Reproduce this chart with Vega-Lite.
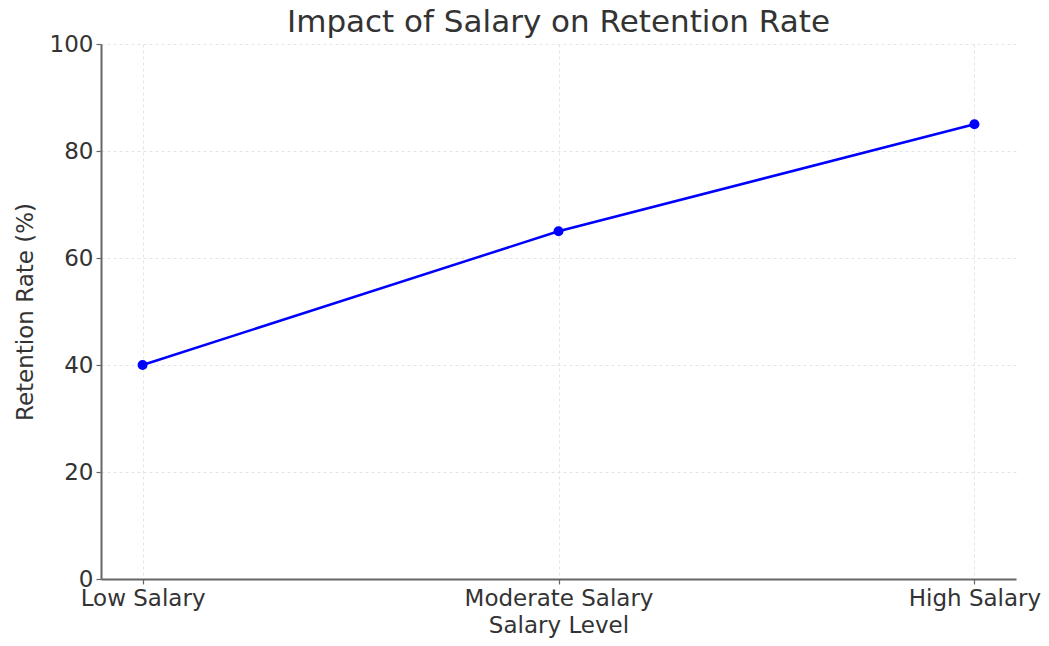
{
  "$schema": "https://vega.github.io/schema/vega-lite/v6.json",
  "autosize": "none",
  "width": 915,
  "height": 535,
  "padding": {"left": 101, "top": 44, "right": 33, "bottom": 67},
  "background": "white",
  "title": {
    "text": "Impact of Salary on Retention Rate",
    "font": "DejaVu Sans",
    "fontSize": 31,
    "fontWeight": "normal",
    "color": "#333333",
    "anchor": "middle",
    "offset": -6
  },
  "data": {
    "values": [
      {"level": "Low Salary", "rate": 40},
      {"level": "Moderate Salary", "rate": 65},
      {"level": "High Salary", "rate": 85}
    ]
  },
  "config": {
    "view": {"stroke": null},
    "axis": {
      "labelFont": "DejaVu Sans",
      "titleFont": "DejaVu Sans",
      "labelFontSize": 23,
      "titleFontSize": 23,
      "titleFontWeight": "normal",
      "labelColor": "#333333",
      "titleColor": "#333333",
      "domainColor": "#666666",
      "domainWidth": 2,
      "tickColor": "#666666",
      "tickWidth": 1.2,
      "tickSize": 5,
      "labelPadding": 3,
      "labelLimit": 400,
      "labelOverlap": false,
      "gridColor": "#dddddd",
      "gridDash": [3, 3],
      "gridWidth": 0.8
    }
  },
  "encoding": {
    "x": {
      "field": "level",
      "type": "ordinal",
      "sort": null,
      "scale": {"type": "point", "padding": 0.1},
      "axis": {"title": "Salary Level", "labelAngle": 0, "grid": true, "titlePadding": 4}
    },
    "y": {
      "field": "rate",
      "type": "quantitative",
      "scale": {"domain": [0, 100]},
      "axis": {"title": "Retention Rate (%)", "values": [0, 20, 40, 60, 80, 100], "grid": true, "titlePadding": 12}
    }
  },
  "layer": [
    {"mark": {"type": "line", "color": "#0000ff", "strokeWidth": 2.5}},
    {"mark": {"type": "point", "filled": true, "color": "#0000ff", "size": 100, "opacity": 1}}
  ]
}
